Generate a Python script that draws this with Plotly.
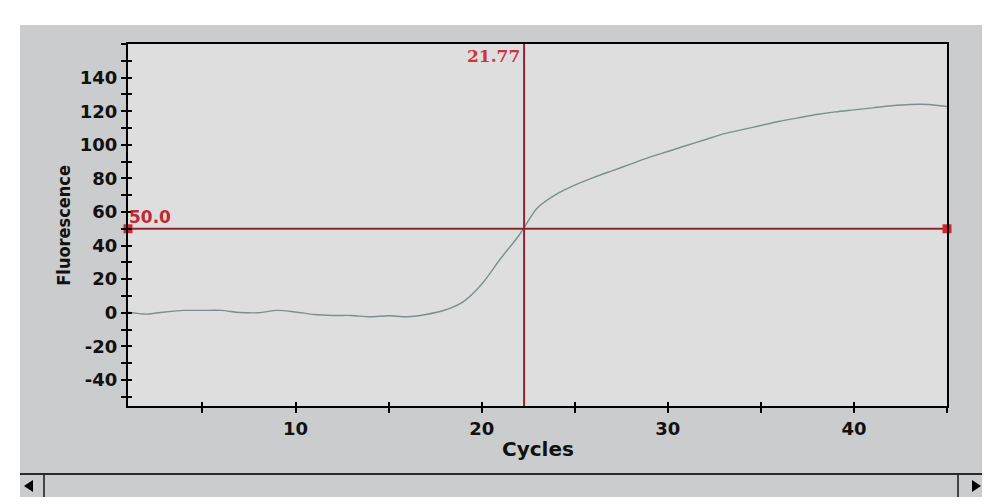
import plotly.graph_objects as go

# ---------------- data ----------------
cycles = list(range(1, 46))
fluorescence = [0.3, -0.8, 0.5, 1.4, 1.4, 1.4, 0.2, 0.0, 1.4, 0.5,
                -1.0, -1.6, -1.6, -2.4, -1.8, -2.4, -1.0, 1.5, 6.5, 17.0,
                32.0, 46.0, 62.5, 70.5, 76.0, 80.5, 84.5, 88.5, 92.5, 96.0,
                99.6, 103.0, 106.5, 109.0, 111.5, 114.0, 116.0, 118.0, 119.6, 120.8,
                122.0, 123.2, 124.0, 124.0, 122.8]
threshold = 50.0
threshold_label = "50.0"
ct_label = "21.77"
ct_line_cycle = 22.28           # where the Ct marker line is drawn
x_range = [1, 45]
y_range = [-55.5, 160]
x_major_ticks = [10, 20, 30, 40]
x_tick_labels = ["10", "20", "30", "40"]
y_major_ticks = [-40, -20, 0, 20, 40, 60, 80, 100, 120, 140]
y_tick_labels = ["-40", "-20", "0", "20", "40", "60", "80", "100", "120", "140"]

# ---------------- layout geometry (page pixels) ----------------
OFF = 8                      # default body margin of the html page
PAGE_W, PAGE_H = 990, 504
W, H = PAGE_W - OFF, PAGE_H - OFF
PL, PR, PT, PB = 128, 947, 44, 406      # plot area on the page
ML, MR, MT, MB = PL - OFF, PAGE_W - PR, PT - OFF, PAGE_H - PB
PW, PH = PR - PL, PB - PT


def px(xp):
    return (xp - PL) / PW


def py(yp):
    return (PB - yp) / PH


PANEL = "#cacccd"
PLOT_BG = "#dedede"
CURVE = "#7c8f90"
TH_LINE = "#8e2432"
TH_MARK = "#d0262c"
LABEL_RED = "#cf3340"
TICK_FONT = dict(family="DejaVu Sans", size=18, color="#111111", weight="bold")

fig = go.Figure()

fig.add_trace(go.Scatter(x=cycles, y=fluorescence, mode="lines",
                         line=dict(color=CURVE, width=1.4, shape="spline", smoothing=0.8),
                         hoverinfo="skip"))
fig.add_trace(go.Scatter(x=x_range, y=[threshold, threshold], mode="lines",
                         line=dict(color=TH_LINE, width=2), hoverinfo="skip"))
fig.add_trace(go.Scatter(x=[ct_line_cycle, ct_line_cycle], y=y_range, mode="lines",
                         line=dict(color=TH_LINE, width=2), hoverinfo="skip"))
fig.add_trace(go.Scatter(x=x_range, y=[threshold, threshold], mode="markers",
                         marker=dict(symbol="square", size=9, color=TH_MARK),
                         cliponaxis=False, hoverinfo="skip"))
# dummy trace to instantiate the overlay axes (crossing ticks)
fig.add_trace(go.Scatter(x=[None], y=[None], xaxis="x2", yaxis="y2",
                         mode="lines", hoverinfo="skip"))

axis_common = dict(showgrid=False, zeroline=False, ticks="outside", ticklen=5,
                   tickwidth=2, tickcolor="#000000")

fig.update_layout(
    width=W, height=H,
    margin=dict(l=ML, r=MR, t=MT, b=MB, pad=0),
    paper_bgcolor=PANEL,
    plot_bgcolor=PLOT_BG,
    showlegend=False,
    xaxis=dict(range=x_range, tickvals=x_major_ticks, ticktext=x_tick_labels,
               tickfont=TICK_FONT,
               showline=True, linecolor="#000000", linewidth=2, mirror=True,
               minor=dict(dtick=5, tick0=0, ticks="outside", ticklen=5,
                          tickwidth=2, tickcolor="#000000"),
               **axis_common),
    yaxis=dict(range=y_range, tickvals=y_major_ticks, ticktext=y_tick_labels,
               tickfont=TICK_FONT,
               showline=True, linecolor="#000000", linewidth=2, mirror=True,
               minor=dict(dtick=10, tick0=0, ticks="outside", ticklen=5,
                          tickwidth=2, tickcolor="#000000"),
               **axis_common),
    xaxis2=dict(range=x_range, overlaying="x", anchor="y", side="bottom",
                showticklabels=False, showline=False, showgrid=False, zeroline=False,
                tickvals=x_major_ticks, ticks="inside", ticklen=4, tickwidth=2,
                tickcolor="#000000",
                minor=dict(dtick=5, tick0=0, ticks="inside", ticklen=4,
                           tickwidth=2, tickcolor="#000000")),
    yaxis2=dict(range=y_range, overlaying="y", anchor="x", side="left",
                showticklabels=False, showline=False, showgrid=False, zeroline=False,
                tickvals=y_major_ticks, ticks="inside", ticklen=4, tickwidth=2,
                tickcolor="#000000",
                minor=dict(dtick=10, tick0=0, ticks="inside", ticklen=4,
                           tickwidth=2, tickcolor="#000000")),
)

# white page around the grey window panel, and the scroll bar
shapes = [
    dict(type="rect", xref="paper", yref="paper", layer="below",
         x0=px(OFF - 2), x1=px(20), y0=py(PAGE_H + 2), y1=py(OFF - 2),
         fillcolor="#ffffff", line=dict(width=0)),
    dict(type="rect", xref="paper", yref="paper", layer="below",
         x0=px(OFF - 2), x1=px(PAGE_W + 2), y0=py(25), y1=py(OFF - 2),
         fillcolor="#ffffff", line=dict(width=0)),
    dict(type="rect", xref="paper", yref="paper", layer="below",
         x0=px(OFF - 2), x1=px(PAGE_W + 2), y0=py(PAGE_H + 2), y1=py(497),
         fillcolor="#ffffff", line=dict(width=0)),
    dict(type="line", xref="paper", yref="paper", x0=px(20), x1=px(990),
         y0=py(474), y1=py(474), line=dict(color="#2a2a2a", width=2)),
    dict(type="line", xref="paper", yref="paper", x0=px(44), x1=px(44),
         y0=py(475), y1=py(497), line=dict(color="#444444", width=2)),
    dict(type="line", xref="paper", yref="paper", x0=px(958), x1=px(958),
         y0=py(475), y1=py(497), line=dict(color="#444444", width=2)),
    dict(type="path", xref="paper", yref="paper",
         path=f"M {px(24)} {py(486)} L {px(33)} {py(480)} L {px(33)} {py(492)} Z",
         fillcolor="#000000", line=dict(width=0)),
    dict(type="path", xref="paper", yref="paper",
         path=f"M {px(981)} {py(486)} L {px(972)} {py(480)} L {px(972)} {py(492)} Z",
         fillcolor="#000000", line=dict(width=0)),
]
fig.update_layout(shapes=shapes)

annotations = [
    dict(text="<b>Fluorescence</b>", xref="paper", yref="paper",
         x=px(62.7), y=0.5, xanchor="center", yanchor="middle", textangle=-90,
         showarrow=False,
         font=dict(family="DejaVu Sans Condensed, DejaVu Sans, sans-serif",
                   size=18, color="#111111")),
    dict(text="<b>Cycles</b>", xref="paper", yref="paper",
         x=0.5, y=py(449), xanchor="center", yanchor="middle", showarrow=False,
         font=dict(family="DejaVu Sans", size=20, color="#111111")),
    dict(text=f"<b>{threshold_label}</b>", xref="x", yref="y",
         x=x_range[0], y=threshold, xanchor="left", yanchor="middle",
         yshift=12, xshift=-1, showarrow=False,
         font=dict(family="DejaVu Sans", size=17, color="#c02a36")),
    dict(text=f"<b>{ct_label}</b>", xref="x", yref="paper",
         x=ct_line_cycle, y=1, xanchor="right", yanchor="middle",
         yshift=-12, xshift=-2, showarrow=False,
         font=dict(family="DejaVu Serif", size=17, color=LABEL_RED)),
]
fig.update_layout(annotations=annotations)

fig.write_html("out.html")
